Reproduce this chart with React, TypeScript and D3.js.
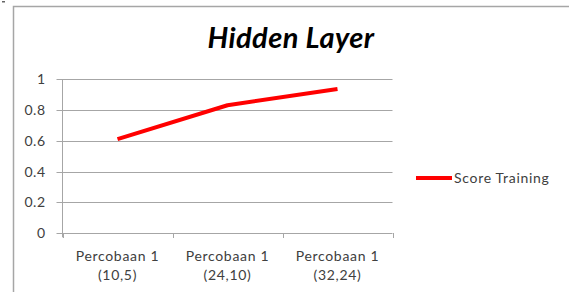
import React, { useEffect, useRef } from "react";
import * as d3 from "d3";

const categories = ["Percobaan 1\n(10,5)", "Percobaan 1\n(24,10)", "Percobaan 1\n(32,24)"];
const scoreTraining = [0.61, 0.83, 0.935];
const yTicks = [0, 0.2, 0.4, 0.6, 0.8, 1];
const title = "Hidden Layer";
const seriesName = "Score Training";

const W = 569;
const H = 292;
const plot = { left: 62.5, right: 392.5, top: 79, bottom: 233.3 };
const FONT = "Lato, 'Open Sans', sans-serif";

export default function App() {
  const ref = useRef<SVGSVGElement | null>(null);

  useEffect(() => {
    const svg = d3.select(ref.current);
    svg.selectAll("*").remove();

    // outer frame
    svg.append("rect").attr("x", 13.5).attr("y", 6.5).attr("width", 600).attr("height", 320)
      .attr("fill", "white").attr("stroke", "#a6a6a6").attr("stroke-width", 1.5);
    svg.append("rect").attr("x", 2).attr("y", 1).attr("width", 3).attr("height", 1.5).attr("fill", "#666");

    const x = d3.scaleBand<string>().domain(categories).range([plot.left, plot.right]);
    const y = d3.scaleLinear().domain([0, 1]).range([plot.bottom, plot.top]);

    // gridlines
    svg.append("g").selectAll("line").data(yTicks).join("line")
      .attr("x1", plot.left - 6).attr("x2", plot.right)
      .attr("y1", (d) => Math.round(y(d)) + 0.5).attr("y2", (d) => Math.round(y(d)) + 0.5)
      .attr("stroke", "#a6a6a6").attr("stroke-width", 1);

    // y axis line
    svg.append("line").attr("x1", plot.left).attr("x2", plot.left)
      .attr("y1", plot.top).attr("y2", plot.bottom + 4)
      .attr("stroke", "#a6a6a6");

    // x ticks
    const xt = [plot.left, ...categories.map((c) => (x(c) as number) + x.bandwidth())];
    svg.append("g").selectAll("line").data(xt).join("line")
      .attr("x1", (d) => Math.round(d) + 0.5).attr("x2", (d) => Math.round(d) + 0.5)
      .attr("y1", Math.round(plot.bottom)).attr("y2", Math.round(plot.bottom) + 5)
      .attr("stroke", "#a6a6a6");

    // y labels
    svg.append("g").selectAll("text").data(yTicks).join("text")
      .attr("x", 45.5).attr("y", (d) => y(d) + 5)
      .attr("text-anchor", "end").attr("font-family", FONT).attr("font-size", 14)
      .attr("letter-spacing", 0.5)
      .attr("fill", "#404040").text((d) => d3.format("~g")(d));

    // x labels
    const xl = svg.append("g").selectAll("text").data(categories).join("text")
      .attr("text-anchor", "middle").attr("font-family", FONT).attr("font-size", 14)
      .attr("letter-spacing", 0.7)
      .attr("fill", "#404040");
    xl.each(function (d) {
      const t = d3.select(this);
      const cx = (x(d) as number) + x.bandwidth() / 2;
      d.split("\n").forEach((line, i) => {
        t.append("tspan").attr("x", cx).attr("y", 261 + i * 19).text(line);
      });
    });

    // line
    const lineGen = d3.line<number>()
      .x((_, i) => (x(categories[i]) as number) + x.bandwidth() / 2)
      .y((d) => y(d));
    svg.append("path").datum(scoreTraining).attr("d", lineGen)
      .attr("fill", "none").attr("stroke", "#ff0000").attr("stroke-width", 4)
      .attr("stroke-linejoin", "round");

    // title
    svg.append("text").attr("x", 291).attr("y", 48).attr("text-anchor", "middle")
      .attr("font-family", FONT).attr("font-size", 29).attr("font-weight", "bold")
      .attr("letter-spacing", 0.4)
      .attr("font-style", "italic").attr("fill", "#000").text(title);

    // legend
    svg.append("line").attr("x1", 416).attr("x2", 452).attr("y1", 178).attr("y2", 178)
      .attr("stroke", "#ff0000").attr("stroke-width", 4);
    svg.append("text").attr("x", 454).attr("y", 183).attr("font-family", FONT)
      .attr("font-size", 14).attr("letter-spacing", 0.7)
      .attr("fill", "#404040").text(seriesName);
  }, []);

  return (
    <svg ref={ref} width={W} height={H}
      style={{ position: "absolute", left: 0, top: 0, background: "white" }} />
  );
}
